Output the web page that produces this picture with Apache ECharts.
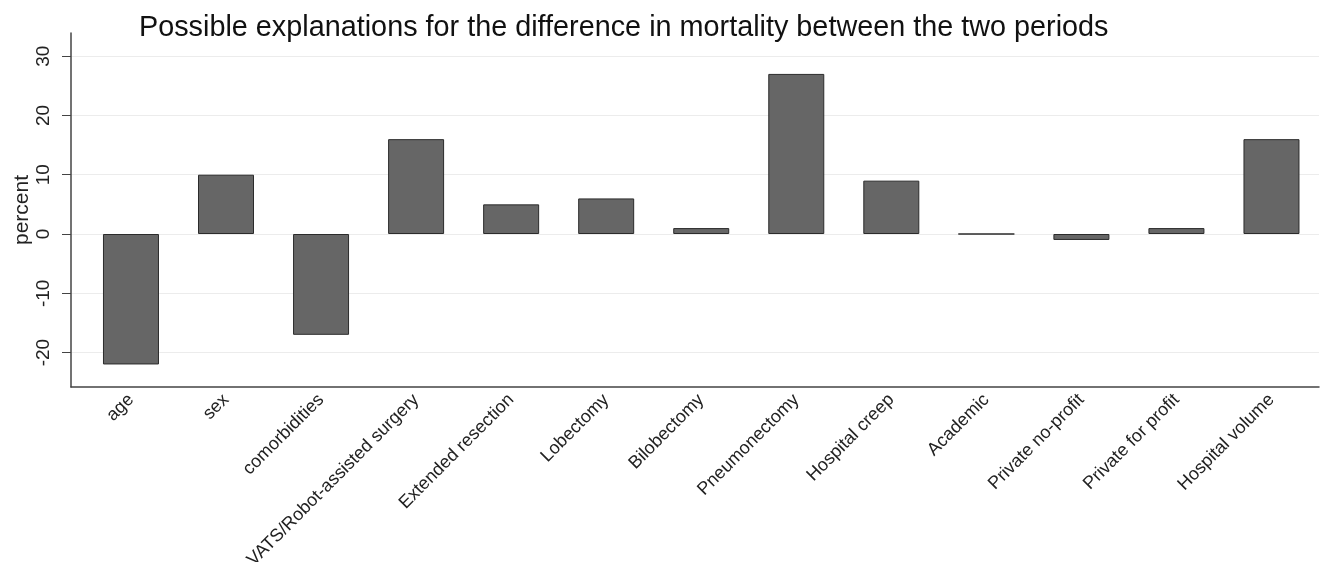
<!DOCTYPE html>
<html>
<head>
<meta charset="utf-8">
<script src="https://cdn.jsdelivr.net/npm/echarts@6/dist/echarts.min.js"></script>
<style>html,body{margin:0;padding:0;background:#fff;}#c{width:1325px;height:562px;}</style>
</head>
<body>
<div id="c"></div>
<script>
const categories = ["age","sex","comorbidities","VATS/Robot-assisted surgery","Extended resection","Lobectomy","Bilobectomy","Pneumonectomy","Hospital creep","Academic","Private no-profit","Private for profit","Hospital volume"];
const percentValues = [-22, 10, -17, 16, 5, 6, 1, 27, 9, 0, -1, 1, 16];
const yTicks = [-20, -10, 0, 10, 20, 30];
const titleText = "Possible explanations for the difference in mortality between the two periods";
const yName = "percent";

const catIdx = categories.map((c, i) => i);
const barData = percentValues.map((v, i) => [i, v]);

const chart = echarts.init(document.getElementById('c'));
chart.setOption({
  animation: false,
  backgroundColor: '#fff',
  textStyle: { fontFamily: 'Liberation Sans, Arial, sans-serif' },
  title: {
    text: titleText,
    left: 134, top: 9,
    textStyle: { fontSize: 28.8, fontWeight: 'normal', color: '#111', fontFamily: 'Liberation Sans, Arial, sans-serif' }
  },
  grid: { left: 71, right: 6, top: 33, bottom: 175, outerBoundsMode: 'none', containLabel: false },
  xAxis: {
    type: 'value',
    min: -0.631, max: 12.5,
    axisLine: { show: true, onZero: false, lineStyle: { color: '#444', width: 1.5 } },
    axisTick: { show: false },
    splitLine: { show: false },
    axisLabel: {
      rotate: 45, fontSize: 18, color: '#222', margin: 10,
      customValues: catIdx,
      formatter: v => categories[Math.round(v)]
    }
  },
  yAxis: {
    type: 'value',
    min: -25.8, max: 33.9,
    name: yName,
    nameLocation: 'middle',
    nameRotate: 90,
    nameGap: 38,
    nameMoveOverlap: false,
    nameTextStyle: { fontSize: 21, color: '#222' },
    axisLine: { show: true, onZero: false, lineStyle: { color: '#444', width: 1.5 } },
    axisTick: { show: true, length: 9, customValues: yTicks, lineStyle: { color: '#444' } },
    axisLabel: { rotate: 90, fontSize: 19, color: '#222', margin: 18, customValues: yTicks },
    splitLine: { show: true, lineStyle: { color: '#ececec', width: 1 } }
  },
  series: [{
    type: 'bar',
    data: barData,
    barWidth: 56,
    itemStyle: { color: '#666666', borderColor: '#2b2b2b', borderWidth: 1 }
  }]
});
</script>
</body>
</html>
